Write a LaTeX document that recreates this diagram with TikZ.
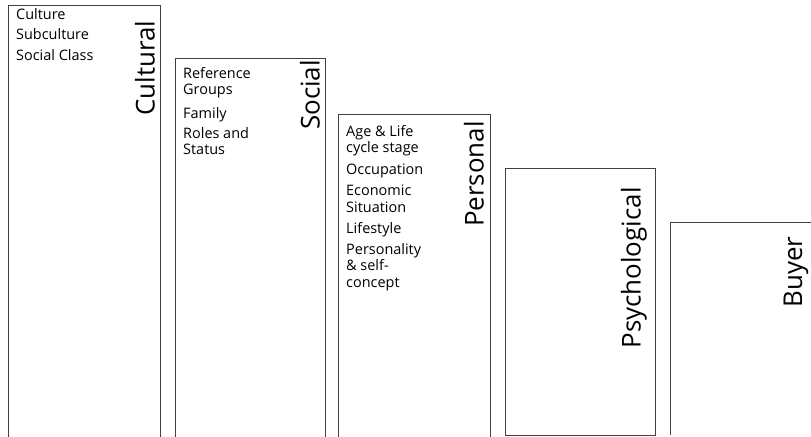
\documentclass[tikz,border=0pt]{standalone}
\usepackage{fontspec}
\setmainfont{Open Sans}
\begin{document}
\begin{tikzpicture}[x=1bp,y=-1bp]
\tikzset{
  boxline/.style={draw=black!75, line width=0.7pt},
  item/.style={anchor=north west, align=left, inner sep=0pt,
    font=\fontsize{14.5}{16.5}\selectfont},
  title/.style={rotate=90, inner sep=0pt, font=\fontsize{26}{30}\selectfont}
}
\useasboundingbox (0,0) rectangle (811,437);
% boxes
\draw[boxline] (8,440) -- (8,5) coordinate (c1) -- (160,5) -- (160,440);
\draw[boxline] (175,440) -- (175,58) coordinate (c2) -- (325,58) -- (325,440);
\draw[boxline] (338,440) -- (338,114) coordinate (c3) -- (490,114) -- (490,440);
\draw[boxline] (505,435) rectangle (655,168);
\coordinate (c4) at (505,168);
\draw[boxline] (670,435) -- (670,222) coordinate (c5) -- (812,222);
% cultural
\node[item] (cu1) at (16,8) {Culture};
\node[item] (cu2) at (16,28) {Subculture};
\node[item] (cu3) at (16,49) {Social Class};
\node[title] (cut) at (145,68) {Cultural};
% social
\node[item] (so1) at (183,67) {Reference\\Groups};
\node[item] (so2) at (183,107) {Family};
\node[item] (so3) at (183,127) {Roles and\\Status};
\node[title] (sot) at (310,95) {Social};
% personal
\node[item] (pe1) at (346,125) {Age \& Life\\cycle stage};
\node[item] (pe2) at (346,164) {Occupation};
\node[item] (pe3) at (346,185) {Economic\\Situation};
\node[item] (pe4) at (346,222) {Lifestyle};
\node[item] (pe5) at (346,243) {Personality\\\& self-\\concept};
\node[title] (pet) at (474,174) {Personal};
% psychological
\node[title] (pst) at (634,268) {Psychological};
% buyer
\node[title] (but) at (796,272) {Buyer};
\end{tikzpicture}
\end{document}
